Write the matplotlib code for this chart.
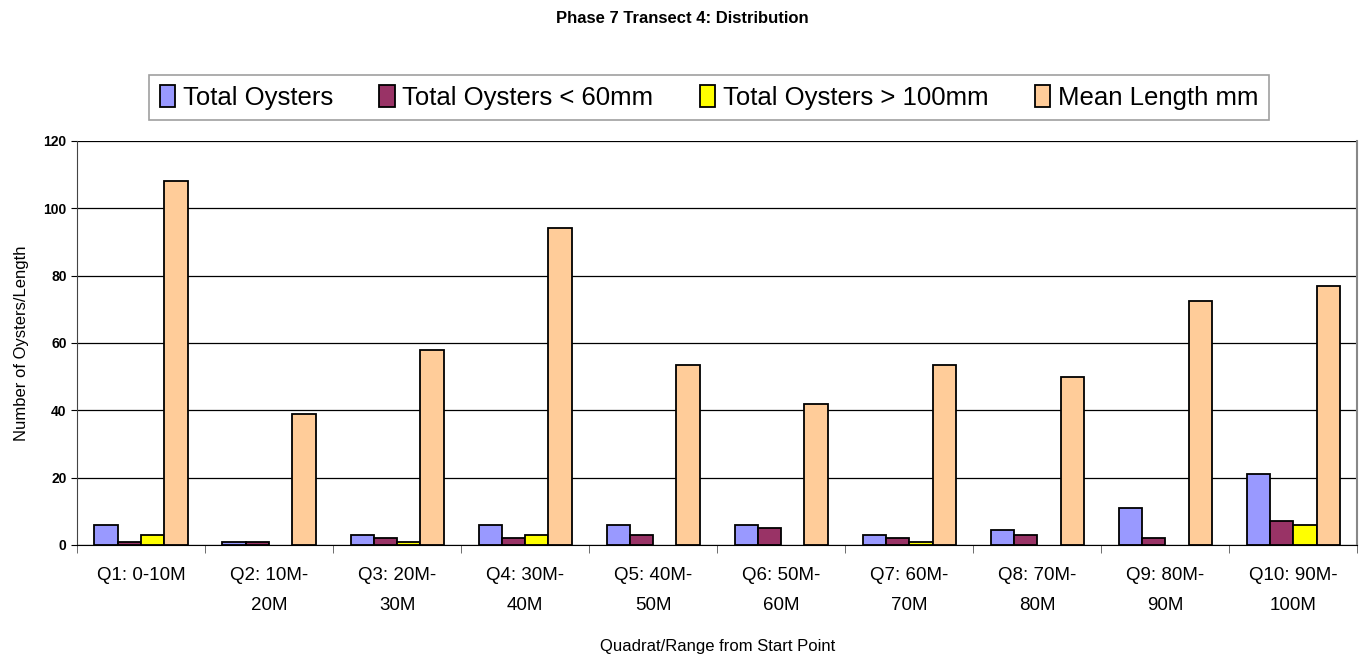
import numpy as np
import matplotlib.pyplot as plt

plt.rcParams['font.family'] = ['Liberation Sans', 'DejaVu Sans']

quadrats = ["Q1: 0-10M", "Q2: 10M-\n20M", "Q3: 20M-\n30M", "Q4: 30M-\n40M",
            "Q5: 40M-\n50M", "Q6: 50M-\n60M", "Q7: 60M-\n70M", "Q8: 70M-\n80M",
            "Q9: 80M-\n90M", "Q10: 90M-\n100M"]
total_oysters = [6, 1, 3, 6, 6, 6, 3, 4.5, 11, 21]
under_60 = [1, 1, 2, 2, 3, 5, 2, 3, 2, 7]
over_100 = [3, 0, 1, 3, 0, 0, 1, 0, 0, 6]
mean_length = [108, 39, 58, 94, 53.3, 42, 53.3, 50, 72.5, 77]

series = [
    ("Total Oysters", total_oysters, "#9999FF"),
    ("Total Oysters < 60mm", under_60, "#993366"),
    ("Total Oysters > 100mm", over_100, "#FFFF00"),
    ("Mean Length mm", mean_length, "#FFCC99"),
]

fig = plt.figure(figsize=(13.65, 6.55), dpi=100)
ax = fig.add_axes([0.0564, 0.168, 0.938, 0.617])

x = np.arange(len(quadrats))
w = 1 / 5.5
for i, (name, vals, col) in enumerate(series):
    vals = np.asarray(vals, dtype=float)
    bars = ax.bar(x + (i - 1.5) * w, vals, w, color=col, edgecolor="black",
                  linewidth=1.3, label=name, zorder=3)
    # empty counts get no outline at the baseline
    for b, v in zip(bars, vals):
        if v == 0:
            b.set_visible(False)

ax.set_xlim(-0.5, len(quadrats) - 0.5)
ax.set_ylim(0, 120)
ax.set_yticks(range(0, 121, 20))
ax.yaxis.grid(True, color="black", linewidth=0.9, zorder=0)
ax.tick_params(axis="y", labelsize=10, length=4, direction="out")
for t in ax.get_yticklabels():
    t.set_fontweight("bold")

ax.set_xticks(x)
ax.set_xticklabels(quadrats, fontsize=13.5, linespacing=2.0)
ax.set_xticks(np.arange(-0.5, len(quadrats)), minor=True)
ax.tick_params(axis="x", which="major", length=0, pad=16)
ax.tick_params(axis="x", which="minor", length=6, color="#555555")

ax.spines["top"].set_visible(False)
ax.spines["right"].set_color("#888888")
ax.spines["right"].set_linewidth(1.5)
ax.spines["left"].set_color("#444444")
ax.spines["bottom"].set_color("black")

ax.set_ylabel("Number of Oysters/Length", fontsize=12, labelpad=10)
ax.set_xlabel("Quadrat/Range from Start Point", fontsize=12, labelpad=18)

fig.text(0.5, 0.971, "Phase 7 Transect 4: Distribution", ha="center",
         va="center", fontsize=12, fontweight="bold")

leg = fig.legend(loc="center", bbox_to_anchor=(0.5195, 0.851), ncol=4,
                 fontsize=18.5, frameon=True, fancybox=False, edgecolor="#888888",
                 handlelength=0.6, handleheight=0.9, handletextpad=0.3,
                 columnspacing=1.8, borderpad=0.4)
leg.get_frame().set_linewidth(1.2)

fig.savefig("out.png", dpi=100)
